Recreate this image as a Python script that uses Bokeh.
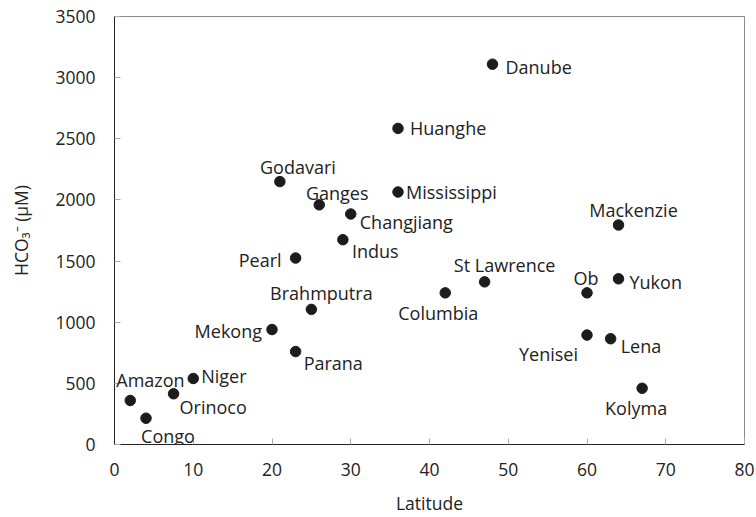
from bokeh.plotting import figure
from bokeh.models import ColumnDataSource, Range1d, FixedTicker, Label
from bokeh.embed import file_html
from bokeh.resources import INLINE

# River mouth latitude vs. bicarbonate concentration
rivers = ["Amazon", "Congo", "Orinoco", "Niger", "Mekong", "Godavari", "Pearl",
          "Parana", "Brahmputra", "Ganges", "Indus", "Changjiang", "Huanghe",
          "Mississippi", "Columbia", "St Lawrence", "Danube", "Ob", "Yenisei",
          "Lena", "Yukon", "Mackenzie", "Kolyma"]
latitude = [2, 4, 7.5, 10, 20, 21, 23, 23, 25, 26, 29, 30, 36, 36, 42, 47, 48,
            60, 60, 63, 64, 64, 67]
hco3 = [360, 215, 415, 540, 940, 2150, 1525, 760, 1105, 1960, 1675, 1885, 2585,
        2065, 1240, 1330, 3110, 1240, 895, 865, 1355, 1795, 460]

x_ticks = [0, 10, 20, 30, 40, 50, 60, 70, 80]
y_ticks = [0, 500, 1000, 1500, 2000, 2500, 3000, 3500]

# label placement around each dot: (dx px, dy px upwards, alignment)
label_place = {
    "Danube": (13, -3, "left"), "Huanghe": (12, 0, "left"),
    "Mississippi": (8, 0, "left"), "Godavari": (18, 15, "center"),
    "Ganges": (18, 12, "center"), "Changjiang": (9, -8, "left"),
    "Indus": (9, -11, "left"), "Pearl": (-14, -2, "right"),
    "Brahmputra": (10, 16, "center"), "Mekong": (-10, -1, "right"),
    "Parana": (8, -11, "left"), "Niger": (8, 2, "left"),
    "Amazon": (-14, 20, "left"), "Orinoco": (6, -13, "left"),
    "Congo": (22, -18, "center"), "Columbia": (-7, -20, "center"),
    "St Lawrence": (20, 17, "center"), "Ob": (-1, 15, "center"),
    "Yukon": (11, -3, "left"), "Yenisei": (-9, -19, "right"),
    "Lena": (10, -7, "left"), "Kolyma": (-6, -20, "center"),
    "Mackenzie": (15, 15, "center"),
}

FONT = "Open Sans"

source = ColumnDataSource(dict(x=latitude, y=hco3, name=rivers))

p = figure(width=756, height=517, output_backend="svg", toolbar_location=None,
           x_range=Range1d(0, 80), y_range=Range1d(0, 3500),
           min_border_left=114, min_border_right=12, min_border_top=16,
           min_border_bottom=73)

p.scatter("x", "y", source=source, size=10.5, color="#1c1c1c")

# one Label per river, offset from its dot
for name, lat, val in zip(rivers, latitude, hco3):
    dx, dy, align = label_place[name]
    p.add_layout(Label(x=lat, y=val, text=name, x_offset=dx, y_offset=dy,
                       text_align=align, text_baseline="middle",
                       text_font=FONT, text_font_size="18px",
                       text_color="#222222"))

p.xgrid.visible = False
p.ygrid.visible = False
p.outline_line_color = "#8a8a8a"
p.background_fill_color = "white"
p.border_fill_color = "white"

p.xaxis.ticker = FixedTicker(ticks=x_ticks)
p.yaxis.ticker = FixedTicker(ticks=y_ticks)

for ax in (p.xaxis[0], p.yaxis[0]):
    ax.axis_line_color = "#222222"
    ax.major_tick_in = 6
    ax.major_tick_out = 0
    ax.major_tick_line_color = "#aaaaaa"
    ax.minor_tick_line_color = None
    ax.major_label_text_font = FONT
    ax.major_label_text_font_size = "17.5px"
    ax.major_label_text_color = "#222222"
    ax.axis_label_text_font = FONT
    ax.axis_label_text_font_size = "17.5px"
    ax.axis_label_text_font_style = "normal"
    ax.axis_label_text_color = "#222222"

p.xaxis.axis_label = "Latitude"
p.xaxis.major_label_standoff = 18
p.xaxis.axis_label_standoff = 12
p.yaxis.axis_label = "HCO\u2083\u207b (\u03bcM)"
p.yaxis.major_label_standoff = 19
p.yaxis.axis_label_standoff = 19

open("out.html", "w").write(file_html(p, INLINE))
